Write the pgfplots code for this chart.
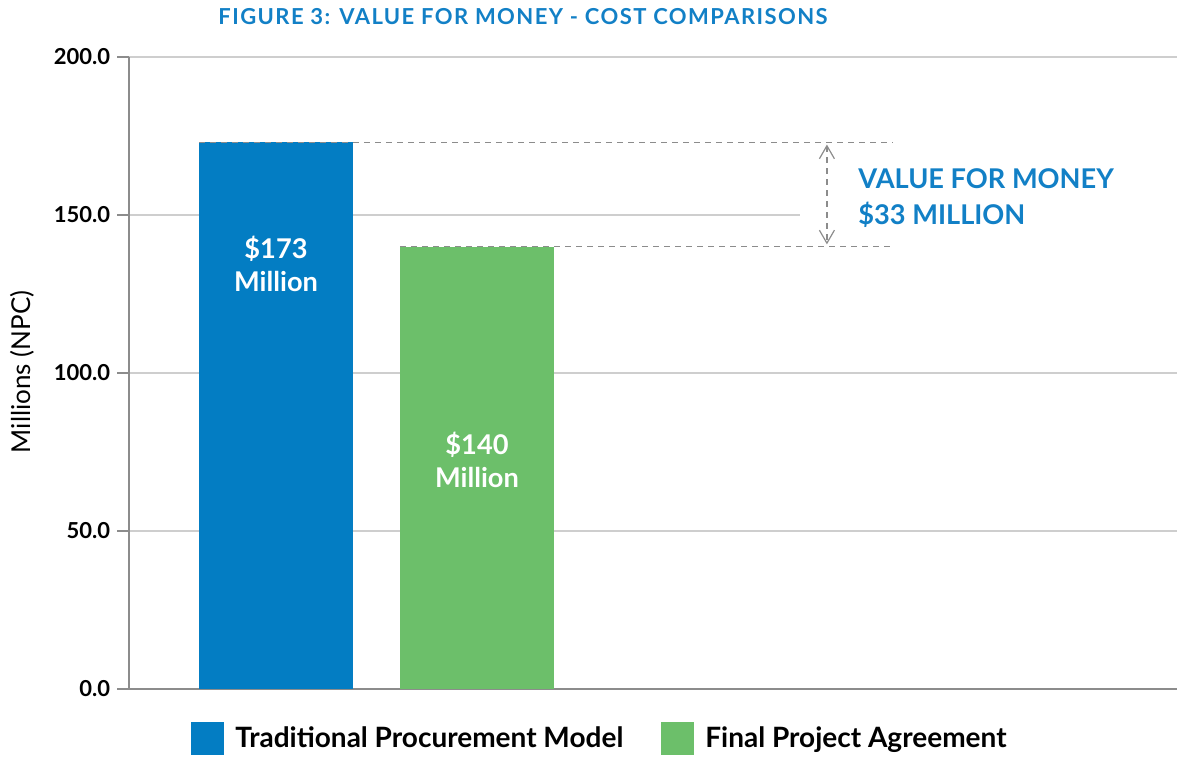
\documentclass[border=0pt]{standalone}
\usepackage{fontspec}
\setmainfont{Lato}
\usepackage{pgfplots}
\pgfplotsset{compat=1.18}
\usetikzlibrary{arrows.meta}
\definecolor{barblue}{RGB}{3,125,195}
\definecolor{bargreen}{RGB}{108,191,106}
\definecolor{txtblue}{RGB}{18,128,198}
\definecolor{axisgray}{RGB}{140,140,140}
\definecolor{gridgray}{RGB}{206,206,206}
\begin{document}
\begin{tikzpicture}[x=1pt,y=1pt]
\useasboundingbox (0,0) rectangle (588.5,378.5);
\begin{axis}[
  at={(64.35pt,34pt)}, anchor=south west,
  scale only axis, width=524.15pt, height=316pt,
  xmin=-0.733, xmax=4.483, ymin=0, ymax=200,
  axis x line*=bottom, axis y line*=left,
  x axis line style={axisgray, line width=1pt},
  y axis line style={axisgray, line width=1pt},
  xtick=\empty,
  ytick={0,50,100,150,200},
  tick align=outside, major tick length=5.8pt,
  ytick style={axisgray, line width=0.6pt},
  ymajorgrids, grid style={gridgray, line width=0.6pt},
  /pgf/number format/assume math mode=true,
  yticklabel={\pgfmathprintnumber[fixed,fixed zerofill,precision=1]{\tick}},
  yticklabel style={font=\fontsize{11}{12}\selectfont\bfseries, black},
  ylabel={Millions (NPC)},
  every axis y label/.style={at={(axis description cs:-0.1018,0.502)}, rotate=90, anchor=center, font=\fontsize{13}{15}\selectfont},
  legend columns=2,
  legend style={at={(axis description cs:0.4505,-0.0783)}, anchor=center, draw=none, fill=none,
    font=\fontsize{14}{16}\selectfont\bfseries,
    /tikz/every even column/.append style={column sep=17pt}},
  legend cell align=left,
  legend image code/.code={\fill[#1] (0pt,-8.25pt) rectangle (16.5pt,8.25pt); \path (20pt,0pt);},
]
\addplot[ybar, bar width=77pt, bar shift=0pt, fill=barblue, draw=none] coordinates {(0,173)};
\addlegendentry{Traditional Procurement Model}
\addplot[ybar, bar width=77pt, bar shift=0pt, fill=bargreen, draw=none] coordinates {(1,140)};
\addlegendentry{Final Project Agreement}

\draw[white, line width=1.5pt] (axis cs:2.607,150) -- (axis cs:4.483,150);
\draw[axisgray, line width=0.6pt, dash pattern=on 3pt off 2.5pt] (axis cs:-0.383,173) -- (axis cs:3.070,173);
\draw[axisgray, line width=0.6pt, dash pattern=on 3pt off 2.5pt] (axis cs:0.617,140) -- (axis cs:3.070,140);
\draw[axisgray, line width=0.6pt, dash pattern=on 3pt off 2.5pt, {Straight Barb[length=6.5pt,width=7.5pt]}-{Straight Barb[length=6.5pt,width=7.5pt]}] (axis cs:2.741,172.3) -- (axis cs:2.741,140.7);

\node[white, font=\fontsize{13.6}{16.5}\selectfont\bfseries, align=center] at (axis cs:0,134.6) {\$173\\Million};
\node[white, font=\fontsize{13.6}{16.5}\selectfont\bfseries, align=center] at (axis cs:1,72.5) {\$140\\Million};
\end{axis}
\node[anchor=base, txtblue, font=\fontsize{11}{13}\selectfont\bfseries\addfontfeatures{LetterSpace=6.5}] at (261.5,366) {FIGURE 3: VALUE FOR MONEY - COST COMPARISONS};
\node[anchor=base west, inner sep=0pt, txtblue, font=\fontsize{13.6}{15}\selectfont\bfseries] at (429,284.3) {VALUE FOR MONEY};
\node[anchor=base west, inner sep=0pt, txtblue, font=\fontsize{13.6}{15}\selectfont\bfseries] at (429,266.3) {\$33 MILLION};
\end{tikzpicture}
\end{document}
